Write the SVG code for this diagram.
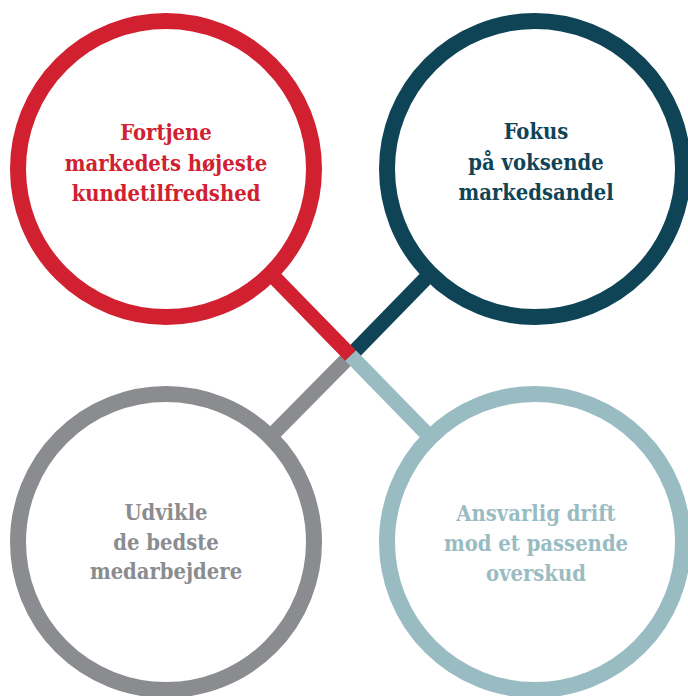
<svg xmlns="http://www.w3.org/2000/svg" width="688" height="696" viewBox="0 0 688 696">
  <style>
    .ring { fill: none; stroke-width: 16; }
    .bar { fill: none; stroke-width: 15; stroke-linecap: butt; }
    .label { font-family: "DejaVu Serif", "Liberation Serif", serif; font-weight: bold; font-size: 21.8px; font-stretch: condensed; text-anchor: middle; }
    .red { stroke: #d12131; }
    .navy { stroke: #0f4457; }
    .grey { stroke: #8b8c90; }
    .teal { stroke: #99bcc3; }
    .red-t { fill: #d12131; }
    .navy-t { fill: #0f4457; }
    .grey-t { fill: #8b8c90; }
    .teal-t { fill: #99bcc3; }
  </style>
  <rect width="688" height="696" fill="#ffffff"/>

  <!-- connectors: two diagonal bars crossing at the middle -->
  <g id="connectors">
    <line class="bar navy" x1="429" y1="275" x2="350.5" y2="355.5"/>
    <line class="bar grey" x1="350.5" y1="355.5" x2="270" y2="437"/>
    <line class="bar teal" x1="350.5" y1="355.5" x2="429" y2="436"/>
    <line class="bar red" x1="271" y1="274" x2="350.5" y2="355.5"/>
  </g>

  <g id="node-kunder">
    <circle class="ring red" cx="166" cy="169" r="148"/>
    <text class="label red-t" x="166" y="140">Fortjene</text>
    <text class="label red-t" x="166" y="171">markedets højeste</text>
    <text class="label red-t" x="166" y="201">kundetilfredshed</text>
  </g>

  <g id="node-marked">
    <circle class="ring navy" cx="535" cy="169" r="148"/>
    <text class="label navy-t" x="536" y="139">Fokus</text>
    <text class="label navy-t" x="536" y="170">på voksende</text>
    <text class="label navy-t" x="536" y="200">markedsandel</text>
  </g>

  <g id="node-medarbejdere">
    <circle class="ring grey" cx="166" cy="542" r="148"/>
    <text class="label grey-t" x="166" y="520">Udvikle</text>
    <text class="label grey-t" x="166" y="550">de bedste</text>
    <text class="label grey-t" x="166" y="579">medarbejdere</text>
  </g>

  <g id="node-drift">
    <circle class="ring teal" cx="535" cy="542" r="148"/>
    <text class="label teal-t" x="536" y="521">Ansvarlig drift</text>
    <text class="label teal-t" x="536" y="551">mod et passende</text>
    <text class="label teal-t" x="536" y="581">overskud</text>
  </g>
</svg>
